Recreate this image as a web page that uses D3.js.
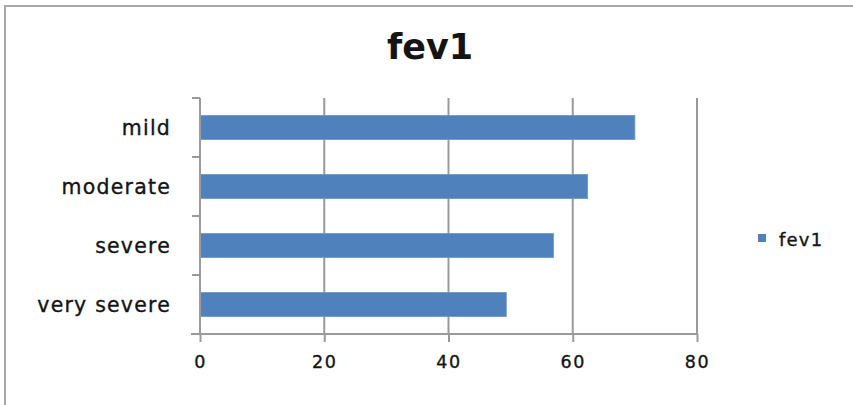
<!DOCTYPE html>
<html>
<head>
<meta charset="utf-8">
<script src="https://cdn.jsdelivr.net/npm/d3@7"></script>
<style>
  html, body { margin: 0; padding: 0; background: #fff; }
  svg { display: block; }
  text { fill: #141414; font-family: "DejaVu Sans", sans-serif; }
  .lbl { stroke: #141414; stroke-width: 0.35px; }
</style>
</head>
<body>
<svg id="chart" width="853" height="405"></svg>
<script>
// fev1 by severity category
const categories = ["mild", "moderate", "severe", "very severe"];
const fev1Values = [70, 62.4, 56.9, 49.3];
const xTickValues = [0, 20, 40, 60, 80];
const seriesName = "fev1";

const svg = d3.select("#chart");
const W = 853, H = 405;
const plot = { left: 200, right: 697, top: 98, bottom: 334 };
const barColor = "#4f81bd";
const gridColor = "#9a9a9a";

// outer chart frame (top and left edges visible)
svg.append("rect")
  .attr("x", 5).attr("y", 6)
  .attr("width", W + 10).attr("height", H + 10)
  .attr("fill", "none")
  .attr("stroke", "#a8a8a8")
  .attr("stroke-width", 2);

const x = d3.scaleLinear().domain([0, 80]).range([plot.left, plot.right]);
const y = d3.scaleBand().domain(categories).range([plot.top, plot.bottom]);

// vertical gridlines
svg.append("g")
  .selectAll("line")
  .data(xTickValues.filter(v => v > 0))
  .join("line")
  .attr("x1", d => x(d)).attr("x2", d => x(d))
  .attr("y1", plot.top).attr("y2", plot.bottom)
  .attr("stroke", gridColor)
  .attr("stroke-width", 2);

// bars
const barH = y.bandwidth() * 0.41;
svg.append("g")
  .selectAll("rect")
  .data(categories.map((c, i) => ({ c, v: fev1Values[i] })))
  .join("rect")
  .attr("x", x(0))
  .attr("y", d => y(d.c) + (y.bandwidth() - barH) / 2)
  .attr("width", d => x(d.v) - x(0))
  .attr("height", barH)
  .attr("fill", barColor)
  .attr("stroke", "#6f97c9")
  .attr("stroke-width", 0.8);

// x axis
const xAxis = d3.axisBottom(x)
  .tickValues(xTickValues)
  .tickSize(8)
  .tickPadding(14);
const gx = svg.append("g")
  .attr("transform", `translate(0,${plot.bottom})`)
  .call(xAxis);
gx.select(".domain").remove();
gx.selectAll(".tick line").attr("stroke", gridColor).attr("stroke-width", 2);
gx.selectAll(".tick text")
  .attr("class", "lbl")
  .attr("font-size", 17.5)
  .attr("letter-spacing", "1.6px")
  .attr("font-family", "DejaVu Sans, sans-serif")
  .attr("fill", "#141414");
gx.append("line")
  .attr("x1", plot.left - 9).attr("x2", plot.right)
  .attr("y1", 0).attr("y2", 0)
  .attr("stroke", gridColor).attr("stroke-width", 2);

// y axis: line, boundary ticks, centred labels
const gy = svg.append("g");
gy.append("line")
  .attr("x1", x(0)).attr("x2", x(0))
  .attr("y1", plot.top).attr("y2", plot.bottom)
  .attr("stroke", gridColor).attr("stroke-width", 2);
const bounds = categories.map(c => y(c)).concat([y.range()[1]]);
gy.selectAll("line.tick")
  .data(bounds)
  .join("line")
  .attr("class", "tick")
  .attr("x1", x(0) - 8).attr("x2", x(0))
  .attr("y1", d => d).attr("y2", d => d)
  .attr("stroke", gridColor).attr("stroke-width", 2);
gy.selectAll("text")
  .data(categories)
  .join("text")
  .attr("class", "lbl")
  .attr("x", 171)
  .attr("y", d => y(d) + y.bandwidth() / 2 + 7)
  .attr("text-anchor", "end")
  .attr("font-size", 20.5)
  .attr("letter-spacing", "1.2px")
  .text(d => d);

// title
svg.append("text")
  .attr("x", 430).attr("y", 59)
  .attr("text-anchor", "middle")
  .attr("font-size", 35)
  .attr("font-weight", "bold")
  .text("fev1");

// legend
const lg = svg.append("g").attr("transform", "translate(758,234)");
lg.append("rect").attr("width", 8).attr("height", 8).attr("fill", barColor);
lg.append("text")
  .attr("class", "lbl")
  .attr("x", 21).attr("y", 12)
  .attr("font-size", 18)
  .attr("letter-spacing", "1.2px")
  .text(seriesName);
</script>
</body>
</html>
